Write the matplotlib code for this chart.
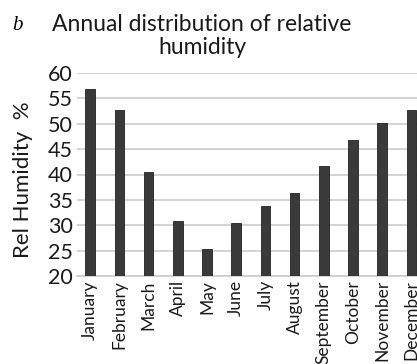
import numpy as np
import matplotlib
matplotlib.use("Agg")
import matplotlib.pyplot as plt

months = ["January", "February", "March", "April", "May", "June", "July",
          "August", "September", "October", "November", "December"]
humidity = [56.8, 52.8, 40.4, 30.8, 25.3, 30.4, 33.8, 36.3, 41.7, 46.7, 50.2, 52.7]
yticks = [20, 25, 30, 35, 40, 45, 50, 55, 60]

plt.rcParams['font.family'] = ['Lato', 'DejaVu Sans']

fig = plt.figure(figsize=(4.17, 3.64), dpi=100)
# axes: x from 77 px to right edge, y from 73 px (60) to 276 px (20)
ax = fig.add_axes([77 / 417, 1 - 276 / 364, 340 / 417, 203 / 364])

x = np.arange(len(months))
ax.bar(x, humidity, width=0.33, color="#3a3a3a", edgecolor="#222222", linewidth=0.6, zorder=3)

ax.set_ylim(20, 60)
ax.set_xlim(-0.45, 11.19)
ax.set_yticks(yticks)
ax.set_yticklabels([str(t) for t in yticks], fontsize=15.5, color="#1a1a1a")
ax.set_xticks(x)
ax.set_xticklabels(months, rotation=90, fontsize=12.5, color="#1a1a1a")
ax.tick_params(axis="both", length=0, pad=3)
ax.grid(axis="y", color="#cccccc", linewidth=1.2, zorder=0)
for s in ["top", "right", "left"]:
    ax.spines[s].set_visible(False)
ax.spines["bottom"].set_color("#cccccc")
ax.spines["bottom"].set_linewidth(1.2)

fig.text(23 / 417, 1 - 180 / 364, "Rel Humidity  %", rotation=90, fontsize=16,
         ha="center", va="center", color="#1a1a1a")
fig.text(202 / 417, 1 - 36 / 364, "Annual distribution of relative\nhumidity",
         fontsize=16.5, ha="center", va="center", linespacing=1.08, color="#1a1a1a")
fig.text(17 / 417, 1 - 25 / 364, "b", fontsize=15, fontstyle="italic",
         family="Liberation Serif", ha="center", va="center")

fig.savefig("out.png", dpi=100)
